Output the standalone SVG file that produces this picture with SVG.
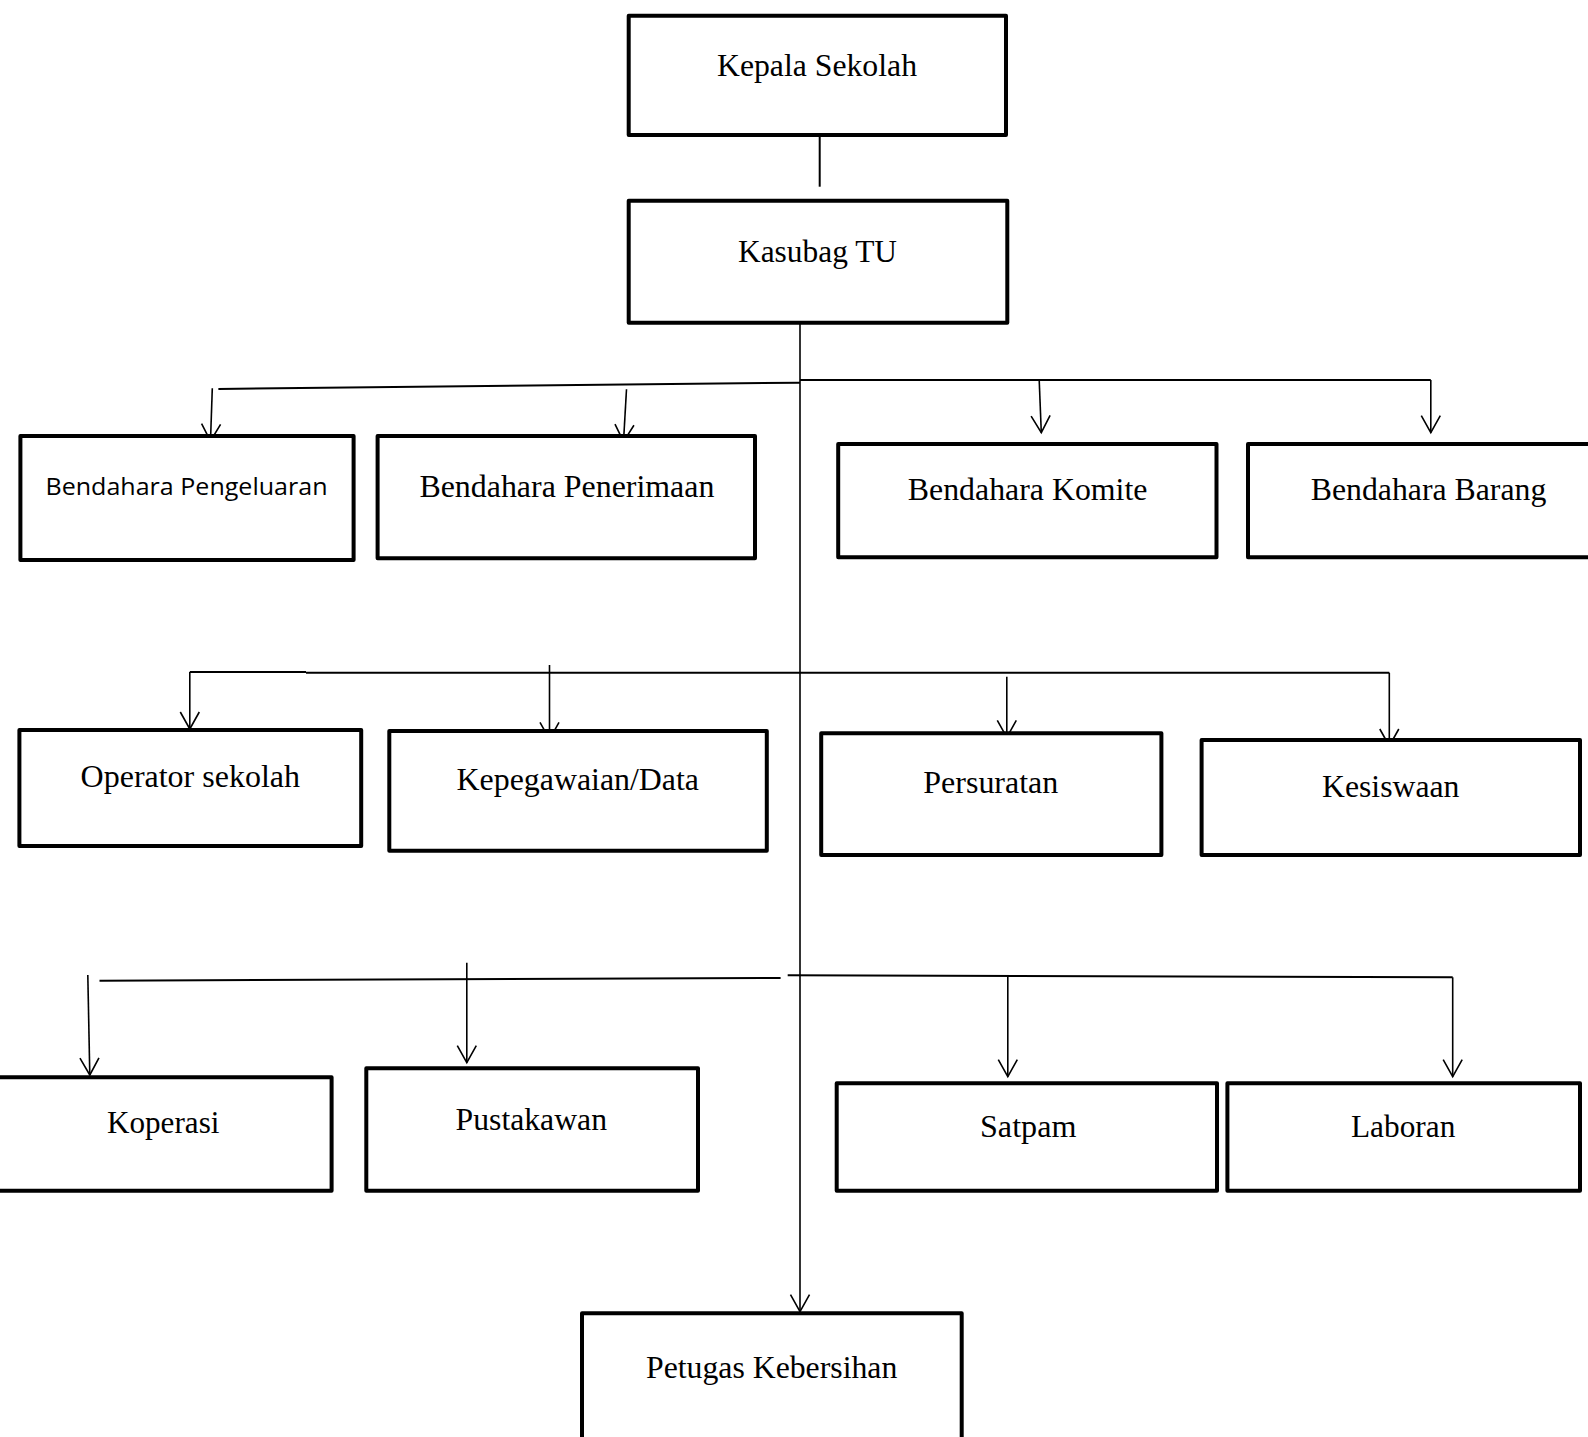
<svg xmlns="http://www.w3.org/2000/svg" width="1588" height="1437" viewBox="0 0 1588 1437">
<style>
.box{fill:#fff;stroke:#000;stroke-width:4;stroke-linejoin:round}
.t{font-family:"Liberation Serif","Times New Roman",serif;font-size:31px;fill:#000}
.s{font-family:"Open Sans","Noto Sans",sans-serif;font-size:24px;fill:#000}
.ln{stroke:#000;stroke-width:2;fill:none}
.ar{stroke:#000;stroke-width:1.6;fill:none;marker-end:url(#ah)}
</style>
<defs>
<marker id="ah" markerUnits="userSpaceOnUse" orient="auto" refX="0" refY="0" markerWidth="20" markerHeight="22" overflow="visible">
<path d="M -17 -9.5 L 0 0 L -17 9.5" fill="none" stroke="#000" stroke-width="1.6"/>
</marker>
</defs>
<rect width="1588" height="1437" fill="#fff"/>
<g id="connectors">
<line class="ln" x1="819.7" y1="135" x2="819.7" y2="186.7" stroke-width="1.6"/>
<line class="ar" x1="800" y1="322.7" x2="800" y2="1311.7"/>
<line class="ln" x1="218.4" y1="389" x2="800" y2="382.7"/>
<line class="ln" x1="800" y1="380" x2="1430.8" y2="380"/>
<line class="ar" x1="212.3" y1="388.3" x2="210.5" y2="441"/>
<line class="ar" x1="626.5" y1="389.3" x2="623.5" y2="441.7"/>
<line class="ar" x1="1039.2" y1="380" x2="1041.3" y2="432.7"/>
<line class="ar" x1="1430.8" y1="380" x2="1430.8" y2="432.7"/>
<line class="ln" x1="189.8" y1="672" x2="306" y2="672"/>
<line class="ln" x1="306" y1="672.7" x2="1389.3" y2="672.7"/>
<line class="ar" x1="189.8" y1="672" x2="189.8" y2="729"/>
<line class="ar" x1="549.5" y1="665" x2="549.5" y2="739.3"/>
<line class="ar" x1="1006.8" y1="676.7" x2="1006.8" y2="737.3"/>
<line class="ar" x1="1389.3" y1="672.7" x2="1389.3" y2="746"/>
<line class="ln" x1="99.5" y1="980.7" x2="780.6" y2="978"/>
<line class="ln" x1="787.7" y1="975.3" x2="1452.7" y2="977.3"/>
<line class="ar" x1="87.8" y1="975" x2="89.8" y2="1075"/>
<line class="ar" x1="466.8" y1="962.7" x2="466.8" y2="1062.7"/>
<line class="ar" x1="1007.8" y1="976" x2="1007.8" y2="1076.7"/>
<line class="ar" x1="1452.7" y1="977.3" x2="1452.7" y2="1076.7"/>
</g>
<g id="kepala-sekolah"><rect class="box" x="628.7" y="15.7" width="377.3" height="119.3"/><text class="t" x="717" y="76" textLength="200" lengthAdjust="spacingAndGlyphs">Kepala Sekolah</text></g>
<g id="kasubag-tu"><rect class="box" x="628.7" y="200.7" width="378.6" height="122"/><text class="t" x="738" y="261.7" textLength="159" lengthAdjust="spacingAndGlyphs">Kasubag TU</text></g>
<g id="bendahara-pengeluaran"><rect class="box" x="20.4" y="436" width="333.2" height="124"/><text class="s" x="45.5" y="495" textLength="282" lengthAdjust="spacingAndGlyphs">Bendahara Pengeluaran</text></g>
<g id="bendahara-penerimaan"><rect class="box" x="377.6" y="436" width="377.4" height="122.3"/><text class="t" x="419.4" y="496.7" textLength="295" lengthAdjust="spacingAndGlyphs">Bendahara Penerimaan</text></g>
<g id="bendahara-komite"><rect class="box" x="838.2" y="444" width="378.3" height="113.3"/><text class="t" x="907.8" y="500" textLength="239.6" lengthAdjust="spacingAndGlyphs">Bendahara Komite</text></g>
<g id="bendahara-barang"><rect class="box" x="1248" y="444" width="360" height="113.3"/><text class="t" x="1310.8" y="500" textLength="235.5" lengthAdjust="spacingAndGlyphs">Bendahara Barang</text></g>
<g id="operator-sekolah"><rect class="box" x="19.4" y="730" width="341.8" height="116"/><text class="t" x="80.6" y="787.3" textLength="219.4" lengthAdjust="spacingAndGlyphs">Operator sekolah</text></g>
<g id="kepegawaian-data"><rect class="box" x="389.3" y="731" width="377.5" height="119.7"/><text class="t" x="456.6" y="790" textLength="242.4" lengthAdjust="spacingAndGlyphs">Kepegawaian/Data</text></g>
<g id="persuratan"><rect class="box" x="821.2" y="733.3" width="340.2" height="121.7"/><text class="t" x="923.3" y="793.3" textLength="135" lengthAdjust="spacingAndGlyphs">Persuratan</text></g>
<g id="kesiswaan"><rect class="box" x="1201.6" y="740" width="378.4" height="115"/><text class="t" x="1322" y="796.7" textLength="137.4" lengthAdjust="spacingAndGlyphs">Kesiswaan</text></g>
<g id="koperasi"><rect class="box" x="-20" y="1077.3" width="351.6" height="113.4"/><text class="t" x="107" y="1133.3" textLength="112.4" lengthAdjust="spacingAndGlyphs">Koperasi</text></g>
<g id="pustakawan"><rect class="box" x="366.3" y="1068.3" width="331.7" height="122.4"/><text class="t" x="455.6" y="1130" textLength="151.4" lengthAdjust="spacingAndGlyphs">Pustakawan</text></g>
<g id="satpam"><rect class="box" x="836.7" y="1083.3" width="380.3" height="107.4"/><text class="t" x="980" y="1136.7" textLength="96.4" lengthAdjust="spacingAndGlyphs">Satpam</text></g>
<g id="laboran"><rect class="box" x="1227.4" y="1083.3" width="352.6" height="107.4"/><text class="t" x="1351" y="1136.7" textLength="104.3" lengthAdjust="spacingAndGlyphs">Laboran</text></g>
<g id="petugas-kebersihan"><rect class="box" x="582" y="1313.3" width="379.7" height="160"/><text class="t" x="646" y="1378.3" textLength="251.3" lengthAdjust="spacingAndGlyphs">Petugas Kebersihan</text></g>
</svg>
